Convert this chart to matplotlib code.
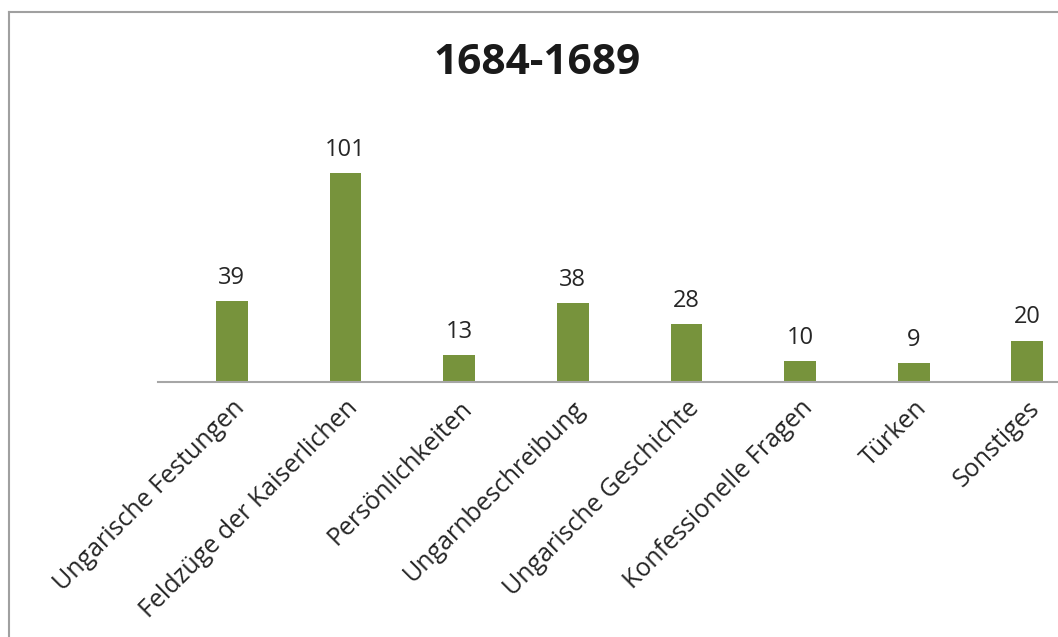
import matplotlib.pyplot as plt
from matplotlib.lines import Line2D

categories = ['Ungarische Festungen', 'Feldzüge der Kaiserlichen', 'Persönlichkeiten',
              'Ungarnbeschreibung', 'Ungarische Geschichte', 'Konfessionelle Fragen',
              'Türken', 'Sonstiges']
values = [39, 101, 13, 38, 28, 10, 9, 20]

plt.rcParams['font.family'] = ['Open Sans', 'DejaVu Sans']
W, H = 1058, 637
fig = plt.figure(figsize=(W / 100, H / 100), dpi=100)
ax = fig.add_axes([158 / W, (H - 382) / H, 1 - 158 / W, (382 - 130) / H])

x = range(len(categories))
bars = ax.bar(x, values, width=0.28, color='#77933C')
ax.set_xlim(-0.65, 7.27)
ax.set_ylim(0, 252 / 2.07)

for xi, v in zip(x, values):
    ax.annotate(str(v), (xi, v), xytext=(0, 8), textcoords='offset points',
                ha='center', va='bottom', fontsize=17, color='#262626')

ax.set_xticks(list(x))
ax.set_xticklabels(categories, rotation=45, ha='right', rotation_mode='anchor',
                   fontsize=18, color='#262626')
ax.tick_params(axis='x', length=0, pad=10)
ax.set_yticks([])
for s in ['top', 'right', 'left']:
    ax.spines[s].set_visible(False)
ax.spines['bottom'].set_color('#A6A6A6')
ax.spines['bottom'].set_linewidth(1.5)

fig.text(537 / W, 1 - 64 / H, '1684-1689', ha='center', va='center',
         fontsize=30.5, fontweight='bold', color='#1A1A1A')

# chart frame (left and top edges visible)
fig.add_artist(Line2D([9 / W, 9 / W], [0, 1 - 12 / H], color='#A0A0A0', lw=1.5))
fig.add_artist(Line2D([9 / W, 1], [1 - 12 / H, 1 - 12 / H], color='#A0A0A0', lw=1.5))

fig.savefig('out.png', dpi=100)
